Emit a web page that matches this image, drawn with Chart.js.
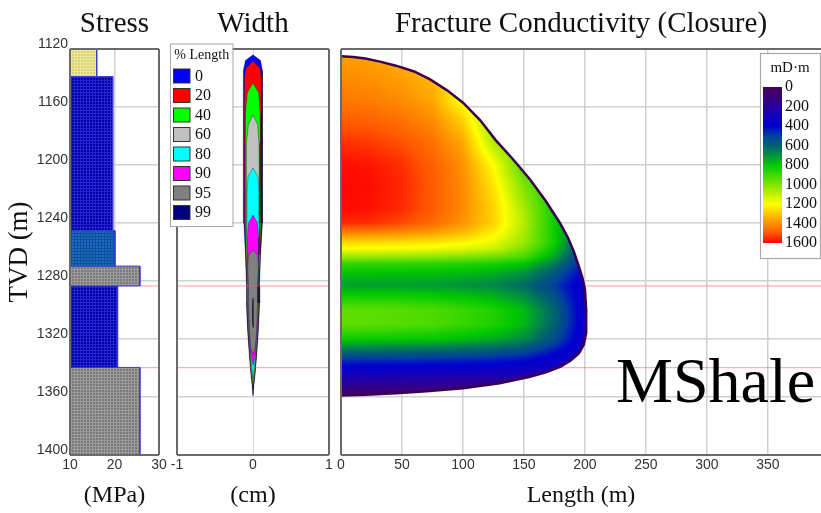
<!DOCTYPE html>
<html><head><meta charset="utf-8">
<script src="https://cdn.jsdelivr.net/npm/chart.js@4.4.1/dist/chart.umd.min.js"></script>
<style>
html,body{margin:0;padding:0;background:#fff;overflow:hidden;width:821px;height:513px;}
canvas{position:absolute;top:0;}
#mshale{position:absolute;left:616px;top:349px;font-family:'Liberation Serif',serif;font-size:64px;line-height:64px;color:#000;white-space:nowrap;}
</style></head><body>
<canvas id="cA" width="172" height="513" style="left:0px"></canvas>
<canvas id="cB" width="182" height="513" style="left:160px"></canvas>
<canvas id="cC" width="491" height="513" style="left:330px"></canvas>
<div id="mshale">MShale</div>
<script>
// ---------------- DATA ----------------
const depthTicks = [1120, 1160, 1200, 1240, 1280, 1320, 1360, 1400];
const stressTicks = [10, 20, 30];
const widthTicks = [-1, 0, 1];
const lengthTicks = [0, 50, 100, 150, 200, 250, 300, 350];
const colorbarTicks = [0, 200, 400, 600, 800, 1000, 1200, 1400, 1600];

// stress layers (MPa) by depth interval (m)
const stressTop    = [1120, 1139, 1245.3, 1269.7, 1283.4, 1339.6];
const stressBottom = [1139, 1245.3, 1269.7, 1283.4, 1339.6, 1400];
const stressValue  = [16.0, 19.6, 20.1, 25.7, 20.7, 25.7];

// marker depths (thin red lines)
const markerDepths = [1283.4, 1339.8];

// width profiles: [depth (m), half width (cm)]
const widthLabels = ['0', '20', '40', '60', '80', '90', '95', '99'];
const width0  = [[1124,0],[1128,0.10],[1135,0.125],[1200,0.13],[1240,0.12],[1262,0.10],[1283,0.085],[1295,0.088],[1315,0.07],[1330,0.05],[1343,0.03],[1352,0.012],[1359,0]];
const width20 = [[1128.5,0],[1133,0.09],[1140,0.11],[1200,0.118],[1240,0.11],[1262,0.094],[1283,0.08],[1295,0.082],[1315,0.065],[1330,0.046],[1343,0.026],[1355,0]];
const width40 = [[1143.5,0],[1150,0.075],[1165,0.095],[1200,0.105],[1240,0.10],[1262,0.088],[1283,0.075],[1295,0.077],[1315,0.06],[1330,0.042],[1343,0.022],[1353,0]];
const width60 = [[1165.5,0],[1172,0.06],[1185,0.08],[1210,0.09],[1240,0.09],[1262,0.083],[1283,0.07],[1295,0.072],[1315,0.056],[1330,0.038],[1343,0.018],[1350,0]];
const width80 = [[1202,0],[1208,0.065],[1220,0.08],[1240,0.082],[1262,0.078],[1283,0.066],[1295,0.068],[1315,0.052],[1330,0.034],[1340,0.016],[1347,0]];
const width90 = [[1234.5,0],[1240,0.06],[1250,0.072],[1262,0.074],[1283,0.063],[1295,0.064],[1315,0.049],[1330,0.031],[1338,0]];
const width95 = [[1258.6,0],[1262,0.06],[1270,0.07],[1283,0.06],[1295,0.061],[1315,0.046],[1326,0.03],[1331,0]];
const width99 = [[1292,0],[1298,0.006],[1308,0.006],[1312,0]];

// fracture outline (length m, depth m)
const outlineLength = [0, 10, 20, 32, 45, 60, 73, 87, 100, 114, 127, 141, 155, 168, 179.5, 186, 191, 195, 198, 200, 201, 201, 199, 195, 188, 180, 168, 155, 130, 100, 70, 45, 20, 0];
const outlineDepth  = [1125, 1125.5, 1126.5, 1128.7, 1131.5, 1135.5, 1141, 1148.5, 1157, 1169, 1183, 1196, 1210, 1225, 1240, 1250, 1260, 1270, 1278, 1286, 1300, 1316, 1324, 1330, 1335, 1339, 1343, 1346, 1350.5, 1354, 1356, 1357.5, 1358.5, 1359];

// conductivity grid (mD·m): rows = depths, columns = lengths
const condLengths = [0, 25, 50, 75, 100, 125, 150, 175, 200];
const condDepths = [1125, 1140, 1155, 1170, 1185, 1200, 1215, 1230, 1240, 1247, 1253, 1258, 1263, 1268, 1275, 1283, 1290, 1300, 1310, 1320, 1327, 1333, 1338, 1343, 1348, 1353, 1359];
const condGrid = [
  [1380,1365,1340,1300,1230,1100,950,850,700],
  [1410,1400,1375,1330,1240,1100,950,850,700],
  [1440,1430,1405,1360,1180,1050,950,850,700],
  [1490,1480,1455,1410,1290,1000,900,850,700],
  [1545,1535,1505,1455,1360,1080,900,850,700],
  [1585,1575,1545,1480,1400,1200,920,820,700],
  [1595,1585,1555,1490,1410,1250,1000,800,700],
  [1590,1580,1550,1490,1410,1280,1060,820,700],
  [1555,1545,1515,1465,1395,1280,1080,820,600],
  [1420,1415,1400,1370,1320,1230,1060,820,560],
  [1280,1275,1265,1250,1220,1170,1040,830,530],
  [1190,1186,1180,1170,1150,1110,990,790,500],
  [1050,1047,1040,1030,1010,980,920,740,450],
  [880,878,875,870,860,840,800,660,420],
  [790,788,785,780,770,750,700,570,370],
  [730,728,725,720,705,680,620,500,330],
  [820,818,815,805,785,755,690,550,330],
  [950,945,935,920,890,850,775,610,340],
  [945,940,930,915,885,845,770,605,340],
  [820,815,810,800,780,750,690,540,320],
  [660,655,650,640,625,600,560,450,300],
  [510,505,500,495,485,470,440,370,280],
  [410,408,405,400,395,385,365,320,260],
  [310,308,305,300,295,285,270,250,230],
  [230,228,225,220,215,205,195,180,170],
  [150,148,145,140,135,130,120,110,100],
  [60,60,58,55,52,50,48,45,40]
];

// ---------------- STYLES ----------------
const SERIF = "'Liberation Serif', 'Times New Roman', serif";
const SANS = "'Liberation Sans', Arial, sans-serif";
Chart.defaults.font.family = SANS;
Chart.defaults.color = '#333';
const gridColor = '#d0d0d0';
const frameColor = '#6a6a6a';
const markerColor = 'rgba(255,90,90,0.6)';
const widthColors = ['#0000ff','#ff0000','#00ff00','#c0c0c0','#00ffff','#ff00ff','#808080','#000080'];
const stressStyles = [['#ddd56c','#ece7a0'],['#0000a4','#2424d4'],['#1a6cc0','#0d4f98'],['#7a7a7a','#9c9c9c'],['#0000a4','#2424d4'],['#7a7a7a','#9c9c9c']];
const cmapStops = [[0,'#48005e'],[100,'#3a0078'],[200,'#2800a0'],[300,'#1000c0'],[400,'#0000d0'],[500,'#0040a0'],[600,'#006070'],[700,'#009040'],[800,'#00c800'],[900,'#40d800'],[1000,'#80e400'],[1100,'#c0f000'],[1200,'#ffff00'],[1300,'#ffc800'],[1400,'#ff9000'],[1500,'#ff5500'],[1600,'#ff0000']];

function hexRgb(h){return [parseInt(h.substr(1,2),16),parseInt(h.substr(3,2),16),parseInt(h.substr(5,2),16)];}
const cmapRgb = cmapStops.map(s => [s[0], hexRgb(s[1])]);
function colorFor(v){
  if (v <= cmapRgb[0][0]) return cmapRgb[0][1];
  for (let i = 0; i < cmapRgb.length - 1; i++){
    const a = cmapRgb[i], b = cmapRgb[i+1];
    if (v <= b[0]) { const t = (v - a[0]) / (b[0] - a[0]); return [0,1,2].map(k => a[1][k] + (b[1][k]-a[1][k])*t); }
  }
  return cmapRgb[cmapRgb.length-1][1];
}
function sampleCond(L, d){
  const nr = condDepths.length;
  let r = 0;
  if (d <= condDepths[0]) { r = 0; d = condDepths[0]; }
  else if (d >= condDepths[nr-1]) { r = nr - 2; d = condDepths[nr-1]; }
  else { while (r < nr - 2 && condDepths[r+1] < d) r++; }
  const ty = (d - condDepths[r]) / (condDepths[r+1] - condDepths[r]);
  const step = condLengths[1] - condLengths[0];
  let cf = Math.max(0, Math.min(condLengths.length - 1.0001, L / step));
  const c = Math.floor(cf), tx = cf - c;
  const v00 = condGrid[r][c], v01 = condGrid[r][c+1], v10 = condGrid[r+1][c], v11 = condGrid[r+1][c+1];
  return (v00*(1-tx) + v01*tx)*(1-ty) + (v10*(1-tx) + v11*tx)*ty;
}

function depthAxis(extra){
  return Object.assign({
    type:'linear', reverse:true, min:1120, max:1400,
    afterBuildTicks: s => { s.ticks = depthTicks.map(v => ({value:v})); },
    grid:{color:gridColor, lineWidth:1.5, drawTicks:false},
    border:{display:false}
  }, extra);
}
function bottomAxis(min, max, ticks, title, gridWidth){
  return {
    type:'linear', position:'bottom', min, max,
    afterBuildTicks: s => { s.ticks = ticks.map(v => ({value:v})); },
    grid:{color:gridColor, lineWidth: gridWidth || 1.5, drawTicks:false},
    border:{display:false},
    ticks:{padding:2, font:{size:14}, color:'#333', maxRotation:0, autoSkip:false, callback: v => String(v)},
    title:{display:true, text:title, font:{family:SERIF, size:24, lineHeight:1.2}, color:'#111', padding:{top:0, bottom:3}},
    afterFit: s => { s.height = 58; s.paddingLeft = 0; s.paddingRight = 0; }
  };
}
function baseOptions(titleText, padRight, scales){
  return {
    responsive:false, animation:false, devicePixelRatio:1, events:[],
    layout:{padding:{left:0, right:padRight, top:0, bottom:0}},
    plugins:{
      legend:{display:false}, tooltip:{enabled:false},
      title:{display:true, text:titleText, fullSize:false, color:'#111',
        font:{family:SERIF, size:29, lineHeight:1.2, weight:'normal'}, padding:{top:7, bottom:7.2}}
    },
    scales,
    elements:{point:{radius:0}, line:{tension:0}}
  };
}
function frame(sides){
  return { id:'frame', afterDatasetsDraw(chart){
    const {ctx, chartArea:a} = chart;
    ctx.save(); ctx.strokeStyle = frameColor; ctx.lineWidth = 2; ctx.beginPath();
    if (sides.includes('t')) { ctx.moveTo(a.left, a.top); ctx.lineTo(a.right, a.top); }
    if (sides.includes('r')) { ctx.moveTo(a.right, a.top); ctx.lineTo(a.right, a.bottom); }
    if (sides.includes('b')) { ctx.moveTo(a.left, a.bottom); ctx.lineTo(a.right, a.bottom); }
    if (sides.includes('l')) { ctx.moveTo(a.left, a.top); ctx.lineTo(a.left, a.bottom); }
    ctx.stroke(); ctx.restore();
  }};
}
function markerSets(xmin, xmax, order){
  return markerDepths.map(d => ({
    data:[{x:xmin, y:d},{x:xmax, y:d}], showLine:true, fill:false,
    borderColor:markerColor, borderWidth:1, pointRadius:0, order
  }));
}

// ---------------- CHART A: STRESS ----------------
const ctxA = document.getElementById('cA').getContext('2d');
function makePattern(base, line){
  const c = document.createElement('canvas'); c.width = 3; c.height = 3;
  const g = c.getContext('2d');
  g.fillStyle = base; g.fillRect(0,0,3,3);
  g.fillStyle = line; g.fillRect(0,2,3,1); g.fillRect(2,0,1,2);
  return ctxA.createPattern(c, 'repeat');
}
const stressSets = stressValue.map((v,i) => ({
  data:[{x:10,y:stressTop[i]},{x:v,y:stressTop[i]},{x:v,y:stressBottom[i]},{x:10,y:stressBottom[i]}],
  showLine:true, fill:'shape', backgroundColor: makePattern(stressStyles[i][0], stressStyles[i][1]),
  borderColor:'#3a3ad0', borderWidth:1, pointRadius:0, order:1
}));
new Chart(ctxA, {
  type:'scatter',
  data:{datasets: markerSets(10, 30, 5).concat(stressSets)},
  options: baseOptions('Stress', 13, {
    x: bottomAxis(10, 30, stressTicks, '(MPa)'),
    y: depthAxis({
      ticks:{display:true, padding:2, labelOffset:-5, font:{size:14}, color:'#333', callback: v => String(v)},
      title:{display:true, text:'TVD (m)', font:{family:SERIF, size:27, lineHeight:1.2}, color:'#111', padding:{top:4, bottom:0}},
      afterFit: s => { s.width = 70; }
    })
  }),
  plugins:[frame('trbl')]
});

// ---------------- CHART B: WIDTH ----------------
const widthProfiles = [width0, width20, width40, width60, width80, width90, width95, width99];
const widthSets = widthProfiles.map((prof, k) => ({
  label: widthLabels[k], role:'profile',
  data: prof.map(p => ({x:p[1], y:p[0]})).concat(prof.slice().reverse().map(p => ({x:-p[1], y:p[0]}))),
  showLine:true, fill:'shape', backgroundColor: widthColors[k],
  borderColor:'rgba(20,20,20,0.6)', borderWidth:0.6, pointRadius:0, order: 20 - k
}));
const widthLegend = { id:'widthLegend', afterDraw(chart){
  const ctx = chart.ctx;
  const L = 10, T = 43.5, W = 62.5, H = 182.5;
  ctx.save();
  ctx.fillStyle = '#fff'; ctx.fillRect(L, T, W, H);
  ctx.strokeStyle = '#a8a8a8'; ctx.lineWidth = 1; ctx.strokeRect(L + 0.5, T + 0.5, W, H);
  ctx.fillStyle = '#111'; ctx.font = '14px ' + SERIF; ctx.textAlign = 'center'; ctx.textBaseline = 'middle';
  ctx.fillText('% Length', L + W/2 + 0.5, 55.5);
  const sets = chart.data.datasets.filter(d => d.role === 'profile');
  ctx.font = '16px ' + SERIF; ctx.textAlign = 'left';
  sets.forEach((d, k) => {
    const y = 69 + k * 19.5;
    ctx.fillStyle = d.backgroundColor; ctx.fillRect(13.5, y, 16.5, 14);
    ctx.strokeStyle = '#333'; ctx.strokeRect(13.5, y, 16.5, 14);
    ctx.fillStyle = '#111'; ctx.fillText(d.label, 35, y + 7.5);
  });
  ctx.restore();
}};
new Chart(document.getElementById('cB'), {
  type:'scatter',
  data:{datasets: widthSets.concat(markerSets(-1, 1, 0))},
  options: baseOptions('Width', 13, {
    x: Object.assign(bottomAxis(-1, 1, widthTicks, '(cm)'), {grid:{color:ctx => ctx.tick && ctx.tick.value === 0 ? '#d8d8d8' : gridColor, lineWidth:ctx => ctx.tick && ctx.tick.value === 0 ? 1 : 1.5, drawTicks:false}}),
    y: depthAxis({ ticks:{display:false}, afterFit: s => { s.width = 17; } })
  }),
  plugins:[frame('trbl'), widthLegend]
});

// ---------------- CHART C: CONDUCTIVITY ----------------
const heatmap = { id:'heatmap', beforeDatasetDraw(chart, args){
  const ds = chart.data.datasets[args.index];
  if (ds.role !== 'outline') return;
  const xs = chart.scales.x, ys = chart.scales.y, ctx = chart.ctx;
  const pts = ds.data.map(p => [xs.getPixelForValue(p.x), ys.getPixelForValue(p.y)]);
  const x0 = Math.floor(Math.min(...pts.map(p => p[0]))) - 1, x1 = Math.ceil(Math.max(...pts.map(p => p[0]))) + 1;
  const y0 = Math.floor(Math.min(...pts.map(p => p[1]))) - 1, y1 = Math.ceil(Math.max(...pts.map(p => p[1]))) + 1;
  const w = x1 - x0, h = y1 - y0;
  const off = document.createElement('canvas'); off.width = w; off.height = h;
  const octx = off.getContext('2d'); const img = octx.createImageData(w, h);
  for (let j = 0; j < h; j++){
    const d = ys.getValueForPixel(y0 + j + 0.5);
    for (let i = 0; i < w; i++){
      const L = xs.getValueForPixel(x0 + i + 0.5);
      const c = colorFor(sampleCond(L, d));
      const o = (j * w + i) * 4;
      img.data[o] = c[0]; img.data[o+1] = c[1]; img.data[o+2] = c[2]; img.data[o+3] = 255;
    }
  }
  octx.putImageData(img, 0, 0);
  ctx.save();
  ctx.beginPath();
  pts.forEach((p, k) => k ? ctx.lineTo(p[0], p[1]) : ctx.moveTo(p[0], p[1]));
  ctx.closePath(); ctx.clip();
  ctx.drawImage(off, x0, y0);
  ctx.restore();
}};
const colorbar = { id:'colorbar', afterDraw(chart){
  const ctx = chart.ctx;
  const L = 430, T = 53, W = 60, H = 205;
  const bx = 433, bw = 19, bt = 87, bb = 243;
  ctx.save();
  ctx.fillStyle = '#fff'; ctx.fillRect(L, T, W, H);
  ctx.strokeStyle = '#a8a8a8'; ctx.lineWidth = 1.2; ctx.strokeRect(L + 0.5, T + 0.5, W, H);
  ctx.fillStyle = '#111'; ctx.font = '15px ' + SERIF; ctx.textAlign = 'center'; ctx.textBaseline = 'middle';
  ctx.fillText('mD\u00b7m', 460, 68);
  const maxV = colorbarTicks[colorbarTicks.length - 1];
  const g = ctx.createLinearGradient(0, bt, 0, bb);
  cmapStops.forEach(s => g.addColorStop(s[0] / maxV, s[1]));
  ctx.fillStyle = g; ctx.fillRect(bx, bt, bw, bb - bt);
  ctx.font = '16px ' + SERIF; ctx.textAlign = 'left'; ctx.fillStyle = '#111';
  colorbarTicks.forEach(v => ctx.fillText(String(v), 455, bt + (v / maxV) * (bb - bt)));
  ctx.restore();
}};
const outlineSet = {
  role:'outline', data: outlineLength.map((L, i) => ({x:L, y:outlineDepth[i]})),
  showLine:true, fill:false, borderColor:'#3c0050', borderWidth:2.5, pointRadius:0, order:1
};
new Chart(document.getElementById('cC'), {
  type:'scatter',
  data:{datasets: markerSets(0, 393.5, 5).concat([outlineSet])},
  options: baseOptions('Fracture Conductivity (Closure)', 0, {
    x: bottomAxis(0, 393.5, lengthTicks, 'Length (m)'),
    y: depthAxis({ ticks:{display:false}, afterFit: s => { s.width = 11; } })
  }),
  plugins:[heatmap, frame('tlb'), colorbar]
});
</script>
</body></html>
